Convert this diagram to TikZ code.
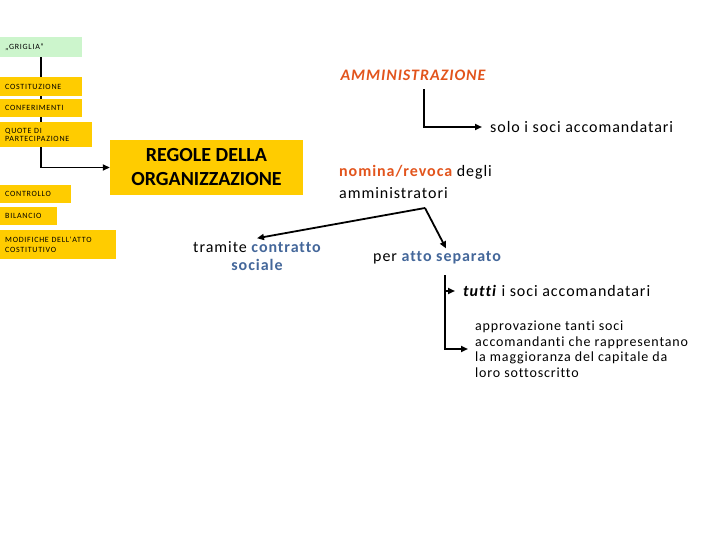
\documentclass[tikz,border=0pt]{standalone}
\usepackage{fontspec}
\setmainfont{Carlito}[LetterSpace=6,Ligatures=NoCommon]
\newfontfamily\plainfont{Carlito}[Ligatures=NoCommon]
\newfontfamily\tabfont{Carlito}[LetterSpace=9,Ligatures=NoCommon]
\usetikzlibrary{arrows.meta,positioning,backgrounds}
\definecolor{Gold}{HTML}{FFCC00}
\definecolor{Mint}{HTML}{CCF5CC}
\definecolor{Rust}{HTML}{E2541C}
\definecolor{Steel}{HTML}{44679A}
\tikzset{
 tab/.style={fill=Gold,anchor=north west,align=left,inner xsep=5pt,inner ysep=0pt,
   font=\tabfont\fontsize{8}{8.5}\selectfont},
 rule/.style={fill=Gold,align=center,font=\plainfont\fontsize{20}{24}\selectfont\bfseries,
   minimum width=193pt,minimum height=55pt},
 note/.style={font=\fontsize{16}{20}\selectfont,inner ysep=3pt,inner xsep=8pt},
 arr/.style={-{Triangle[length=7pt,width=6pt]},line width=1.8pt,draw=black}
}
\begin{document}
\begin{tikzpicture}[x=1pt,y=-1pt]
\useasboundingbox (0,0) rectangle (720,540);
% left column
\node[tab,fill=Mint,text width=72pt,minimum height=20pt] (griglia) at (0,37) {„GRIGLIA”};
\node[tab,text width=72pt,minimum height=19pt] (costit) at (0,77) {COSTITUZIONE};
\node[tab,text width=72pt,minimum height=18pt] (confer) at (0,99) {CONFERIMENTI};
\node[tab,text width=82pt,minimum height=25pt] (quote) at (0,122) {QUOTE DI\\PARTECIPAZIONE};
\node[tab,text width=61pt,minimum height=18pt] (contr) at (0,185) {CONTROLLO};
\node[tab,text width=47pt,minimum height=18pt] (bilan) at (0,207) {BILANCIO};
\node[tab,text width=106pt,minimum height=29pt,font=\tabfont\fontsize{8}{10}\selectfont] (modif) at (0,230) {MODIFICHE DELL'ATTO\\COSTITUTIVO};
\node[rule] (regole) at (206.5,167.5) {REGOLE DELLA\\ORGANIZZAZIONE};
\begin{pgfonlayer}{background}
\draw[arr] (griglia.south) |- (regole.west);
\end{pgfonlayer}
% administration
\node[note,font=\fontsize{16}{20}\selectfont\bfseries\itshape,text=Rust] (ammin) at (413,75) {AMMINISTRAZIONE};
\node[note,anchor=west] (solo) at (482,127) {solo i soci accomandatari};
\draw[arr] ([xshift=11pt,yshift=-6pt]ammin.south) |- (solo.west);
\node[note,anchor=north west,align=left,font=\fontsize{16}{22}\selectfont,inner xsep=3pt] (nomina) at (336,162)
 {\textcolor{Rust}{\bfseries nomina/revoca} degli\\amministratori};
\coordinate (split) at (425,208);
\node[note,align=center,font=\fontsize{16}{18}\selectfont] (tramite) at (257,256)
 {tramite \textcolor{Steel}{\bfseries contratto}\\\textcolor{Steel}{\bfseries sociale}};
\node[note,anchor=west,inner xsep=3pt] (per) at (370,258) {per \textcolor{Steel}{\bfseries atto separato}};
\draw[arr] (split) -- (tramite.north);
\draw[arr] (split) -- ([xshift=9pt]per.north);
% consent
\coordinate (fork) at (445,275);
\node[note,anchor=west] (tutti) at (455,291) {\textbf{\textit{tutti}} i soci accomandatari};
\node[note,anchor=west,align=left,font=\fontsize{14}{15.5}\selectfont,inner xsep=7pt] (appr) at (468,349)
 {approvazione tanti soci\\accomandanti che rappresentano\\la maggioranza del capitale da\\loro sottoscritto};
\draw[arr] (fork) |- (tutti.west);
\draw[arr] (fork) |- (appr.west);
\end{tikzpicture}
\end{document}
